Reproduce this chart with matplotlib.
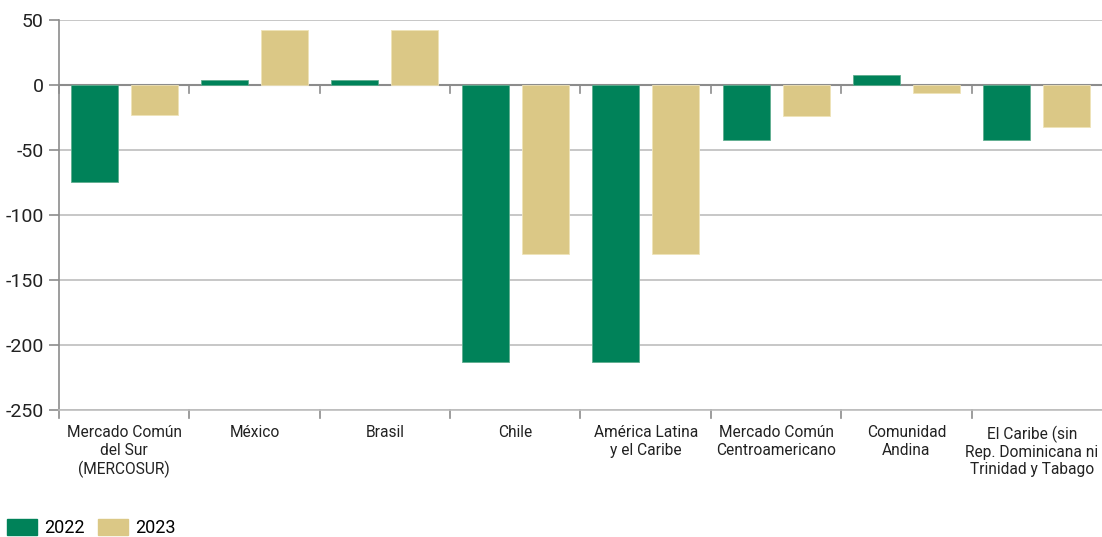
import matplotlib

matplotlib.use("Agg")
import matplotlib.pyplot as plt
import matplotlib.transforms as mtransforms
import numpy as np
from matplotlib.patches import Patch

plt.rcParams["font.family"] = ["Roboto", "DejaVu Sans"]

categories = [
    "Mercado Común\ndel Sur\n(MERCOSUR)",
    "México",
    "Brasil",
    "Chile",
    "América Latina\ny el Caribe",
    "Mercado Común\nCentroamericano",
    "Comunidad\nAndina",
    "El Caribe (sin\nRep. Dominicana ni\nTrinidad y Tabago",
]
v2022 = [-75, 4, 4, -213, -213, -42, 7.5, -42]
v2023 = [-23, 42, 42, -130, -130, -24, -6, -32]
years = ["2022", "2023"]
yticks = [50, 0, -50, -100, -150, -200, -250]

GREEN = "#008259"
TAN = "#dbc886"

fig = plt.figure(figsize=(11.02, 5.37), dpi=100)
ax = fig.add_axes([0.0535, 0.2365, 0.9465, 0.7263])

x = np.arange(len(categories))
w = 0.36
ax.bar(x - 0.23, v2022, w, color=GREEN, edgecolor="#5fae8f", linewidth=0.6, zorder=3)
ax.bar(x + 0.23, v2023, w, color=TAN, edgecolor="#efe3b8", linewidth=0.6, zorder=3)

ax.set_xlim(-0.5, len(categories) - 0.5)
ax.set_ylim(-250, 50)
ax.set_yticks(yticks)
ax.set_yticklabels([str(t) for t in yticks], fontsize=14, color="#222222")
ax.yaxis.grid(True, color="#bdbdbd", linewidth=1.2, zorder=0)
ax.axhline(0, color="#8c8c8c", linewidth=1.5, zorder=2)

# category labels between boundary ticks
ax.set_xticks(x)
ax.set_xticklabels(categories, fontsize=11.2, color="#222222", linespacing=1.2, va="top")
ax.tick_params(axis="x", length=0, pad=11)
ax.tick_params(axis="y", length=7, width=1.2, color="#8c8c8c", pad=4)
# nudge the last label left so it stays inside the figure
last = ax.get_xticklabels()[-1]
last.set_transform(last.get_transform()
                   + mtransforms.ScaledTranslation(-5 / 100, 0, fig.dpi_scale_trans))

bounds = np.arange(len(categories) + 1) - 0.5
for b in bounds[:-1]:
    ax.plot([b, b], [0, -6], color="#8c8c8c", lw=1.2, zorder=2, clip_on=False)
    ax.plot([b, b], [-250, -256], color="#8c8c8c", lw=1.2, zorder=2, clip_on=False)

for s in ["top", "right"]:
    ax.spines[s].set_visible(False)
ax.spines["left"].set_color("#8c8c8c")
ax.spines["left"].set_linewidth(1.2)
ax.spines["bottom"].set_color("#bdbdbd")
ax.spines["bottom"].set_linewidth(1.2)

handles = [Patch(color=GREEN), Patch(color=TAN)]
fig.legend(handles, years, loc="lower left", bbox_to_anchor=(0.006, 0.0), ncol=2,
           frameon=False, fontsize=13, handlelength=1.7, handleheight=1.0,
           handletextpad=0.4, columnspacing=0.7, borderaxespad=0.0, borderpad=0.0)

fig.savefig("out.png", dpi=100)
